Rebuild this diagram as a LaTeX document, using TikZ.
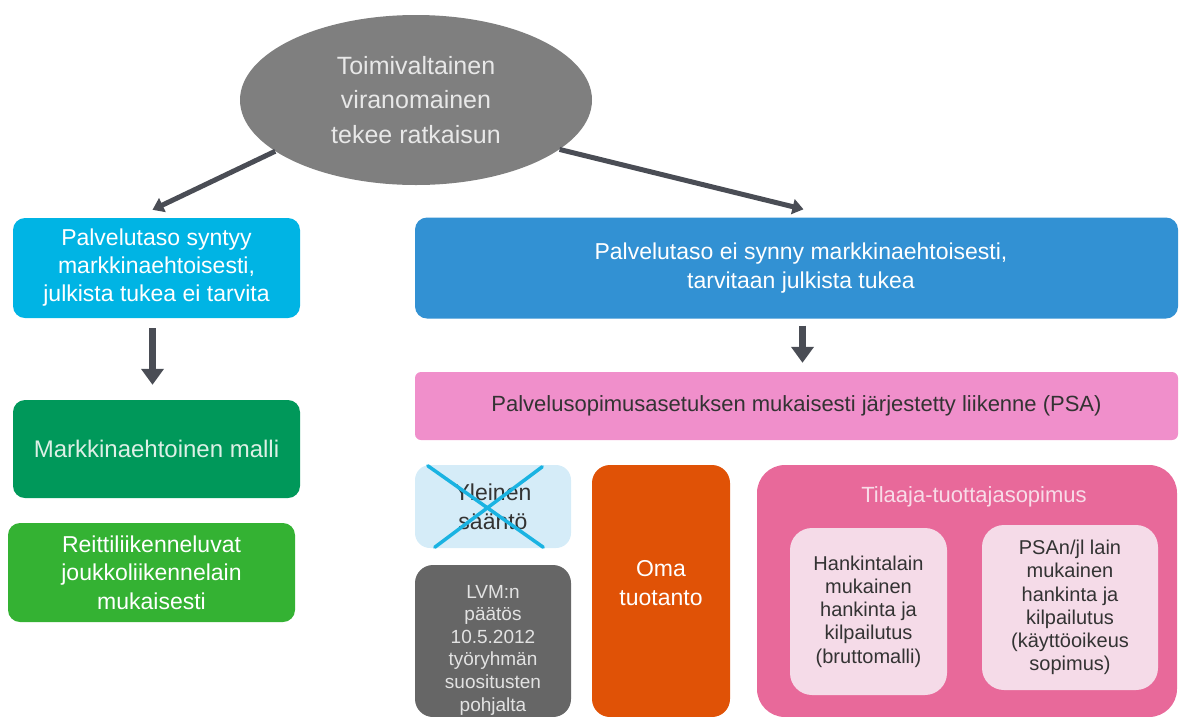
\documentclass[tikz,border=0pt]{standalone}
\usepackage{fontspec}
\setmainfont{Liberation Sans}
\usetikzlibrary{shapes.geometric,arrows.meta}
\definecolor{ellgray}{HTML}{7F7F7F}
\definecolor{elltext}{HTML}{E8E8E8}
\definecolor{arrgray}{HTML}{4A4D55}
\definecolor{cyanbox}{HTML}{00B4E4}
\definecolor{darkgreen}{HTML}{00985A}
\definecolor{greentext}{HTML}{DDF0E6}
\definecolor{lightgreen}{HTML}{34B233}
\definecolor{bluebox}{HTML}{3291D3}
\definecolor{psapink}{HTML}{F08FCB}
\definecolor{darktext}{HTML}{333333}
\definecolor{paleblue}{HTML}{D5ECF8}
\definecolor{crosscyan}{HTML}{1AB3E2}
\definecolor{lvmgray}{HTML}{666666}
\definecolor{lvmtext}{HTML}{E2E2E2}
\definecolor{orangebox}{HTML}{E05206}
\definecolor{tilpink}{HTML}{E8699A}
\definecolor{tiltext}{HTML}{F8DCE8}
\definecolor{innerpink}{HTML}{F5DBE8}
\begin{document}
\begin{tikzpicture}[x=1pt,y=-1pt,
  box/.style={rectangle, rounded corners=12pt, draw=none, inner sep=0pt, align=center},
  txt/.style={inner sep=0pt, align=center},
  arr/.style={draw=arrgray, line width=5pt, -{Triangle[length=11pt,width=15pt]}},
  varr/.style={draw=arrgray, line width=6.5pt, -{Triangle[length=16pt,width=22pt]}},
  cross/.style={draw=crosscyan, line width=3.5pt, line cap=round}]
\useasboundingbox (0,0) rectangle (1179,716);
\clip (0,0) rectangle (1179,716);

% top ellipse
\node[ellipse, fill=ellgray, minimum width=352pt, minimum height=170pt, inner sep=0pt,
  text=elltext, align=center, font=\fontsize{25}{34.5}\selectfont] (ell) at (416,100)
  {Toimivaltainen\\viranomainen\\tekee ratkaisun};

% left column
\node[box, fill=cyanbox, text=white, minimum width=287pt, minimum height=100pt,
  font=\fontsize{23}{28}\selectfont] (b1) at (156.5,268)
  {Palvelutaso syntyy\\markkinaehtoisesti,\\julkista tukea ei tarvita};
\node[box, fill=darkgreen, text=greentext, minimum width=287pt, minimum height=98pt,
  font=\fontsize{24}{28}\selectfont] (b2) at (156.5,449)
  {Markkinaehtoinen malli};
\node[box, fill=lightgreen, text=white, minimum width=287pt, minimum height=99pt,
  font=\fontsize{23}{28.5}\selectfont] (b3) at (151.5,572.5)
  {Reittiliikenneluvat\\joukkoliikennelain\\mukaisesti};

% right column
\node[box, fill=bluebox, minimum width=763pt, minimum height=101pt] (blue) at (796.5,268) {};
\node[txt, text=white, font=\fontsize{23}{29}\selectfont] (bluet) at (801,268)
  {Palvelutaso ei synny markkinaehtoisesti,\\tarvitaan julkista tukea};
\node[box, rounded corners=6pt, fill=psapink, text=darktext, minimum width=763pt, minimum height=68pt,
  font=\fontsize{22}{28}\selectfont] (psa) at (796.5,406)
  {Palvelusopimusasetuksen mukaisesti järjestetty liikenne (PSA)};

\node[box, rounded corners=15pt, fill=paleblue, text=darktext, minimum width=156pt, minimum height=83pt,
  font=\fontsize{23}{29}\selectfont] (yl) at (493,506.5)
  {Yleinen\\sääntö};
\draw[cross] ([shift={(13pt,-1pt)}]yl.north west) -- ([shift={(-28pt,1pt)}]yl.south east);
\draw[cross] ([shift={(-29pt,-2pt)}]yl.north east) -- ([shift={(20pt,1pt)}]yl.south west);

\node[box, rounded corners=18pt, fill=lvmgray, minimum width=156pt, minimum height=152pt] (lvm) at (493,641) {};
\node[txt, text=lvmtext, font=\fontsize{19}{22.6}\selectfont] (lvmt) at (493,650)
  {LVM:n\\päätös\\10.5.2012\\työryhmän\\suositusten\\pohjalta};

\node[box, rounded corners=18pt, fill=orangebox, minimum width=138pt, minimum height=252pt] (oma) at (661,591) {};
\node[txt, text=white, font=\fontsize{23}{29}\selectfont] (omat) at (661,583)
  {Oma\\tuotanto};

\node[box, rounded corners=28pt, fill=tilpink, minimum width=420pt, minimum height=252pt] (til) at (967,591) {};
\node[txt, text=tiltext, font=\fontsize{22}{28}\selectfont] (tilt) at (974,497)
  {Tilaaja-tuottajasopimus};
\node[box, rounded corners=22pt, fill=innerpink, text=darktext, minimum width=157pt, minimum height=167pt,
  font=\fontsize{20}{23.3}\selectfont] (in1) at (868.5,611.5)
  {Hankintalain\\mukainen\\hankinta ja\\kilpailutus\\(bruttomalli)};
\node[box, rounded corners=22pt, fill=innerpink, text=darktext, minimum width=176pt, minimum height=165pt,
  font=\fontsize{20}{23.3}\selectfont] (in2) at (1070,607.5)
  {PSAn/jl lain\\mukainen\\hankinta ja\\kilpailutus\\(käyttöoikeus\\sopimus)};

% connectors
\draw[arr] (ell.200) -- ([xshift=-4pt,yshift=8pt]b1.north);
\draw[arr] (ell.341) -- ([xshift=7pt,yshift=8pt]blue.north);
\draw[varr] ([xshift=-4pt,yshift=-10pt]b1.south) -- ([xshift=-4pt,yshift=15pt]b2.north);
\draw[varr] ([xshift=6pt,yshift=-7pt]blue.south) -- ([xshift=6pt,yshift=9pt]psa.north);
\end{tikzpicture}
\end{document}
